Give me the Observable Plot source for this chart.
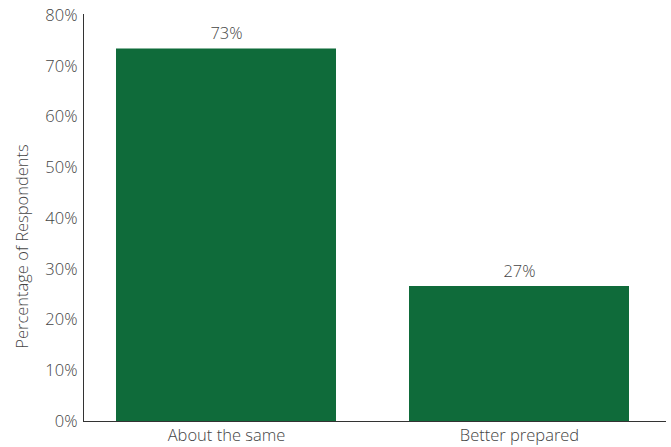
<!DOCTYPE html>
<html>
<head>
<meta charset="utf-8">
<script src="https://cdn.jsdelivr.net/npm/d3@7"></script>
<script src="https://cdn.jsdelivr.net/npm/@observablehq/plot@0.6"></script>
<style>
  html, body { margin: 0; padding: 0; background: #fff; }
  svg { display: block; }
</style>
</head>
<body>
<div id="chart"></div>
<script>
const categories = ["About the same", "Better prepared"];
const values = [73.4, 26.6];
const yTicks = [0, 10, 20, 30, 40, 50, 60, 70, 80];
const yLabel = "Percentage of Respondents";

const data = categories.map((c, i) => ({category: c, value: values[i]}));
const textColor = "#444";
const font = "'Open Sans', sans-serif";

const chart = Plot.plot({
  width: 671,
  height: 447,
  marginTop: 15,
  marginBottom: 26,
  marginLeft: 83,
  marginRight: 9,
  style: {fontFamily: font, fontSize: "16.5px", fontWeight: 300, color: textColor, background: "#fff"},
  x: {domain: categories, paddingInner: 0.248, paddingOuter: 0.109, label: null},
  y: {domain: [0, 80], label: null},
  marks: [
    Plot.barY(data, {x: "category", y: "value", fill: "#0f6b3a"}),
    Plot.ruleY([0], {stroke: "#333", strokeWidth: 1, insetRight: -4}),
    Plot.frame({anchor: "left", stroke: "#333", strokeWidth: 1, insetTop: -1}),
    Plot.axisY({ticks: yTicks, tickFormat: d => d + "%", tickSize: 0, tickPadding: 6, fontSize: 16.5, fill: textColor, label: null}),
    Plot.axisX({tickSize: 0, tickPadding: 8, fontSize: 16.5, fill: textColor, label: null}),
    Plot.text(data, {x: "category", y: "value", text: d => Math.round(d.value) + "%", dy: -15, fontSize: 16.5, fill: textColor}),
    Plot.text([yLabel], {frameAnchor: "left", textAnchor: "middle", text: d => d, rotate: -90, dx: -61, dy: 28, fontSize: 16.5, fill: textColor})
  ]
});
document.getElementById("chart").appendChild(chart);
</script>
</body>
</html>
